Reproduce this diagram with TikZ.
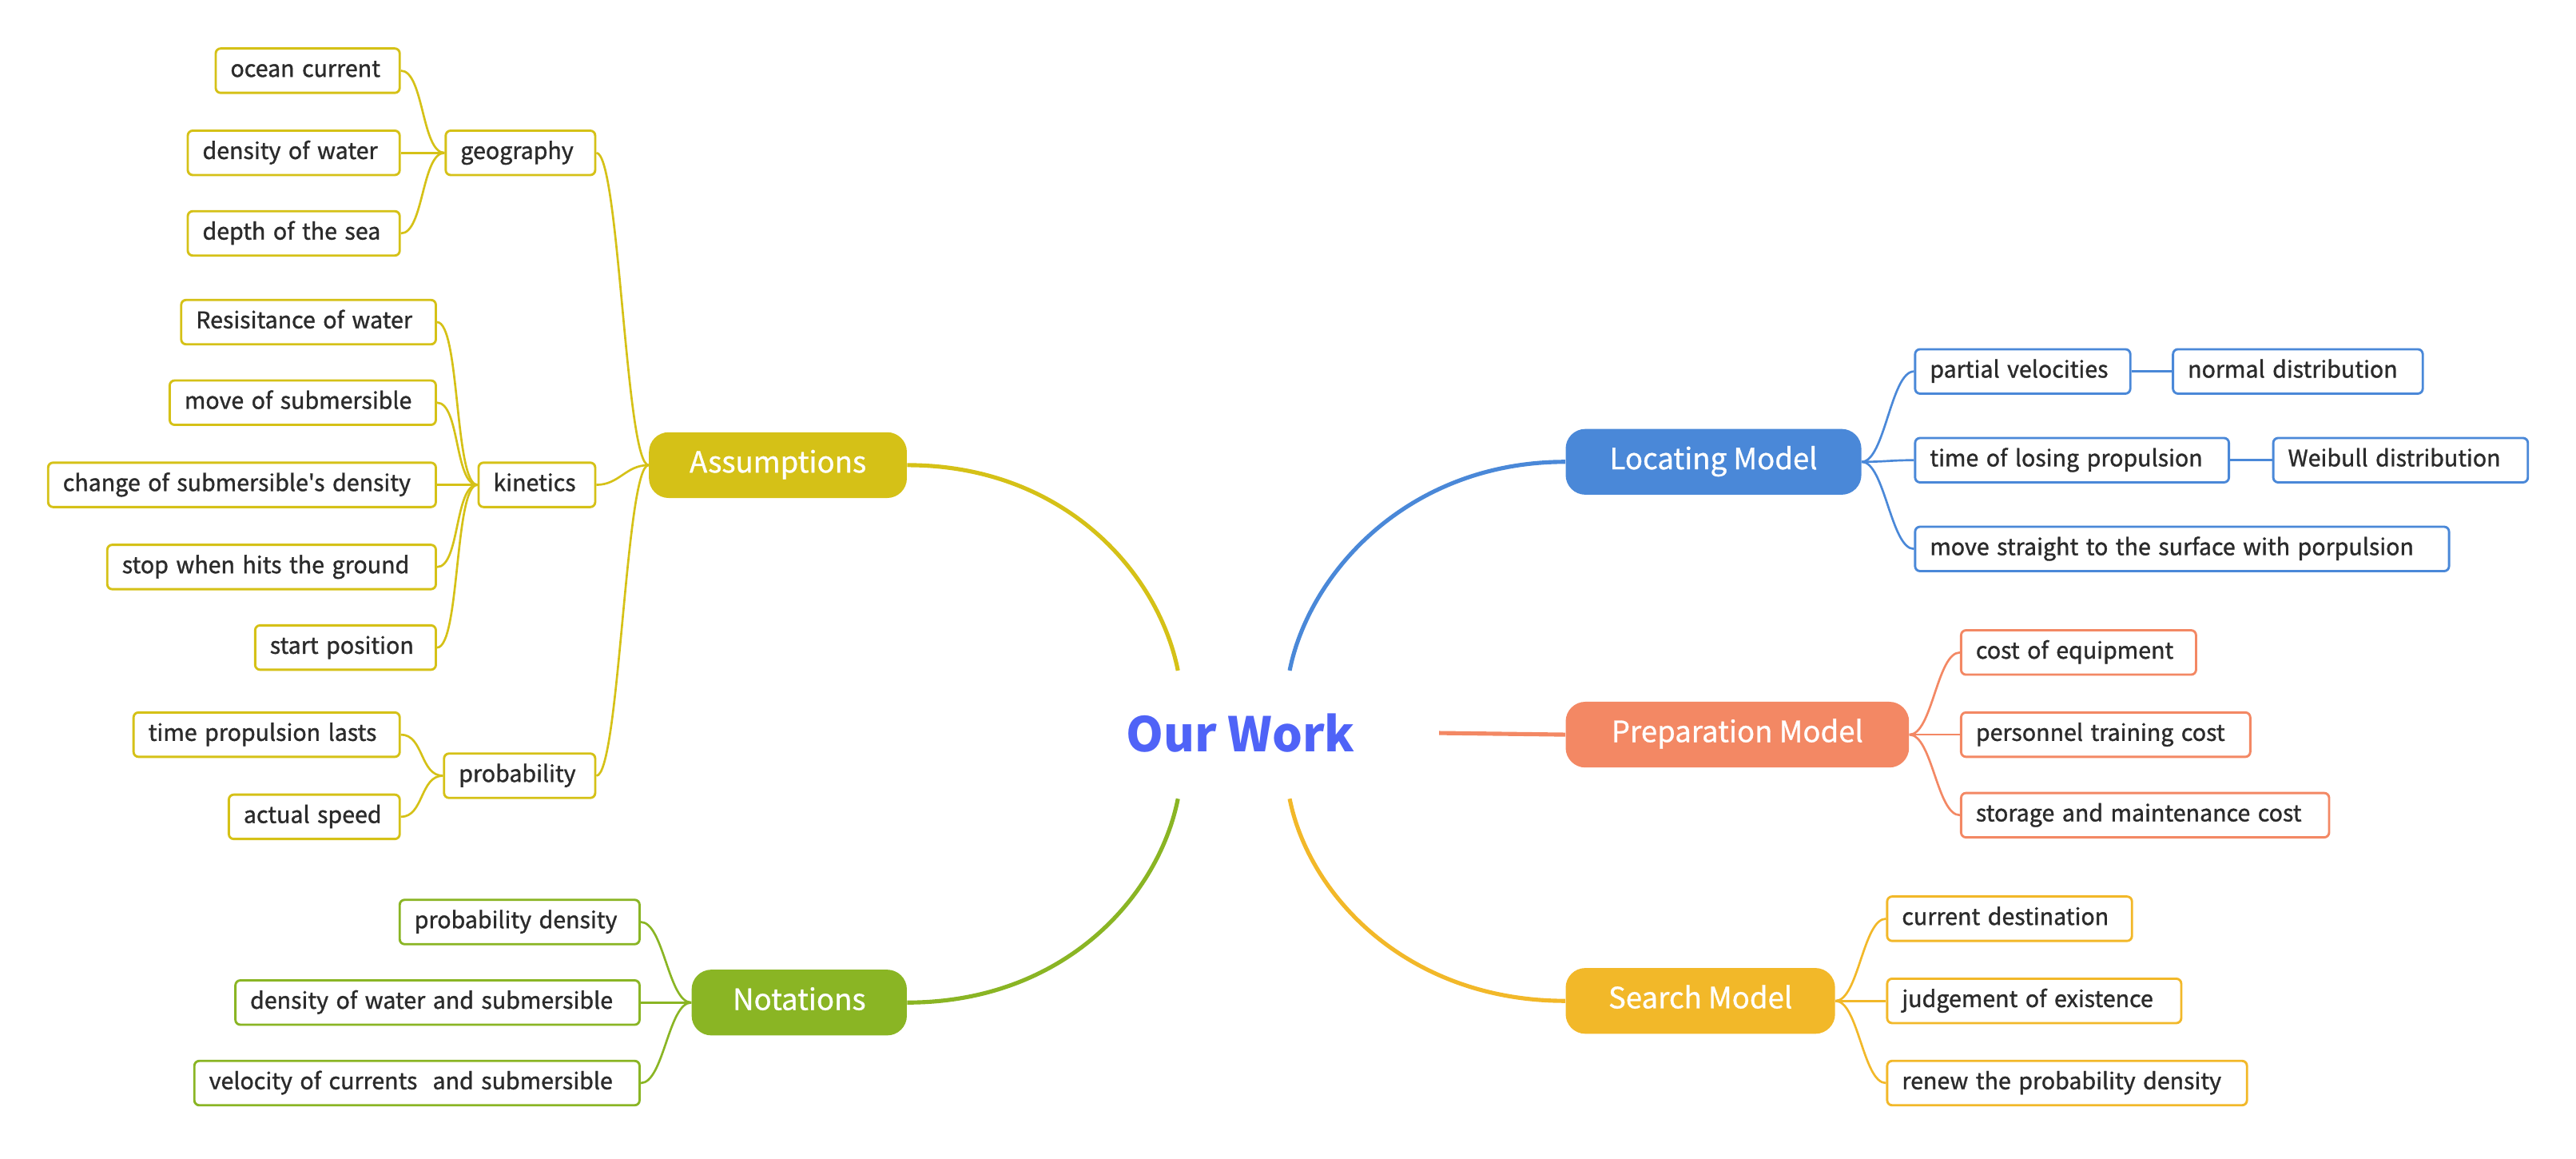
\documentclass[tikz,border=0pt]{standalone}
\usepackage{fontspec}
\newfontfamily\nf{Noto Sans CJK SC}
\newfontfamily\nfm{Noto Sans CJK SC}[FakeBold=1.2]
\newfontfamily\nfw{Noto Sans CJK SC}[FakeBold=0.8]
\definecolor{cY}{HTML}{D5C117}
\definecolor{cG}{HTML}{8AB524}
\definecolor{cB}{HTML}{4A88D8}
\definecolor{cO}{HTML}{F38864}
\definecolor{cS}{HTML}{F2B829}
\definecolor{cW}{HTML}{4F63F7}
\definecolor{txt}{HTML}{2B2B2B}
\tikzset{
  leaf/.style={draw, line width=1.4pt, rounded corners=3pt, fill=white,
    minimum height=27pt, inner xsep=9pt, inner ysep=0pt, align=left,
    text=txt, font=\nfm\fontsize{13.9}{17}\selectfont, text height=10.5pt, text depth=3pt,
    execute at begin node={\leavevmode\hbox\bgroup}, execute at end node={\egroup}},
  leafY/.style={leaf, draw=cY},
  leafG/.style={leaf, draw=cG},
  leafB/.style={leaf, draw=cB},
  leafO/.style={leaf, draw=cO},
  leafS/.style={leaf, draw=cS},
  mainbox/.style={rounded corners=12pt, minimum height=40pt, inner sep=0pt,
    text=white, font=\nfw\fontsize{17.8}{22}\selectfont, text height=13pt, text depth=4pt},
  arcline/.style={line width=2.5pt},
  twig/.style={line width=1.3pt},
}
\begin{document}
\begin{tikzpicture}[x=1pt,y=1pt]
\useasboundingbox (0,0) rectangle (1568,-705.2);
% center
\node[font=\nf\bfseries\fontsize{29}{34}\selectfont, text=cW] (ow) at (755,-446) {Our Work};
\coordinate (c1) at (717,-408);
\coordinate (c2) at (785,-408);
\coordinate (c3) at (717,-486);
\coordinate (c4) at (785,-486);
\coordinate (c5) at (876,-446);
% main nodes
\node[mainbox, fill=cY, minimum width=157pt] (asm) at (473.5,-283) {Assumptions};
\node[mainbox, fill=cG, minimum width=131pt] (nota) at (486.5,-610) {Notations};
\node[mainbox, fill=cB, minimum width=180pt] (loc) at (1043,-281) {Locating Model};
\node[mainbox, fill=cO, minimum width=209pt] (prep) at (1057.5,-447) {Preparation Model};
\node[mainbox, fill=cS, minimum width=164pt] (srch) at (1035,-609) {Search Model};
% assumptions subtree
\node[leafY, text width=73pt, anchor=east] (geo) at (363,-93) {geography};
\node[leafY, text width=53pt, anchor=east] (kin) at (363,-295) {kinetics};
\node[leafY, text width=74pt, anchor=east] (prob) at (363,-472) {probability};
\node[leafY, text width=94pt, anchor=east] (oc) at (244,-43) {ocean current};
\node[leafY, text width=111pt, anchor=east] (dw) at (244,-93) {density of water};
\node[leafY, text width=111pt, anchor=east] (ds) at (244,-142) {depth of the sea};
\node[leafY, text width=137pt, anchor=east] (rw) at (266,-196) {Resisitance of water};
\node[leafY, text width=144pt, anchor=east] (ms) at (266,-245) {move of submersible};
\node[leafY, text width=218pt, anchor=east] (cs) at (266,-295) {change of submersible's density};
\node[leafY, text width=182pt, anchor=east] (sg) at (266,-345) {stop when hits the ground};
\node[leafY, text width=92pt, anchor=east] (sp) at (266,-394) {start position};
\node[leafY, text width=144pt, anchor=east] (tp) at (244,-447) {time propulsion lasts};
\node[leafY, text width=86pt, anchor=east] (as) at (244,-497) {actual speed};
% notations subtree
\node[leafG, text width=128pt, anchor=east] (pd) at (390,-561) {probability density};
\node[leafG, text width=228pt, anchor=east] (dws) at (390,-610) {density of water and submersible};
\node[leafG, text width=253pt, anchor=east] (vcs) at (390,-659) {velocity of currents\ \ and submersible};
% locating subtree
\node[leafB, text width=113pt, anchor=west] (pv) at (1165,-226) {partial velocities};
\node[leafB, text width=134pt, anchor=west] (nd) at (1322,-226) {normal distribution};
\node[leafB, text width=173pt, anchor=west] (tl) at (1165,-280) {time of losing propulsion};
\node[leafB, text width=137pt, anchor=west] (wd) at (1383,-280) {Weibull distribution};
\node[leafB, text width=307pt, anchor=west] (mst) at (1165,-334) {move straight to the surface with porpulsion};
% preparation subtree
\node[leafO, text width=125pt, anchor=west] (ce) at (1193,-397) {cost of equipment};
\node[leafO, text width=158pt, anchor=west] (pt) at (1193,-447) {personnel training cost};
\node[leafO, text width=206pt, anchor=west] (sm) at (1193,-496) {storage and maintenance cost};
% search subtree
\node[leafS, text width=131pt, anchor=west] (cd) at (1148,-559) {current destination};
\node[leafS, text width=161pt, anchor=west] (je) at (1148,-609) {judgement of existence};
\node[leafS, text width=201pt, anchor=west] (rp) at (1148,-659) {renew the probability density};
% main arcs
\draw[arcline, cY] (asm.east) .. controls +(95,0) and +(-12,60) .. (c1);
\draw[arcline, cG] (nota.east) .. controls +(95,0) and +(-12,-60) .. (c3);
\draw[arcline, cB] (c2) .. controls +(12,60) and +(-95,0) .. (loc.west);
\draw[arcline, cS] (c4) .. controls +(12,-60) and +(-95,0) .. (srch.west);
\draw[arcline, cO] (c5) -- (prep.west);
% twigs
\foreach \p/\c in {asm/geo, asm/kin, asm/prob, geo/oc, geo/dw, geo/ds, kin/rw, kin/ms, kin/cs, kin/sg, kin/sp, prob/tp, prob/as}
  \draw[twig, cY] (\p.west) .. controls +(-14,0) and +(14,0) .. (\c.east);
\foreach \p/\c in {nota/pd, nota/dws, nota/vcs}
  \draw[twig, cG] (\p.west) .. controls +(-14,0) and +(14,0) .. (\c.east);
\foreach \p/\c in {loc/pv, loc/tl, loc/mst, pv/nd, tl/wd}
  \draw[twig, cB] (\p.east) .. controls +(14,0) and +(-14,0) .. (\c.west);
\foreach \p/\c in {prep/ce, prep/pt, prep/sm}
  \draw[twig, cO] (\p.east) .. controls +(14,0) and +(-14,0) .. (\c.west);
\foreach \p/\c in {srch/cd, srch/je, srch/rp}
  \draw[twig, cS] (\p.east) .. controls +(14,0) and +(-14,0) .. (\c.west);
\end{tikzpicture}
\end{document}
